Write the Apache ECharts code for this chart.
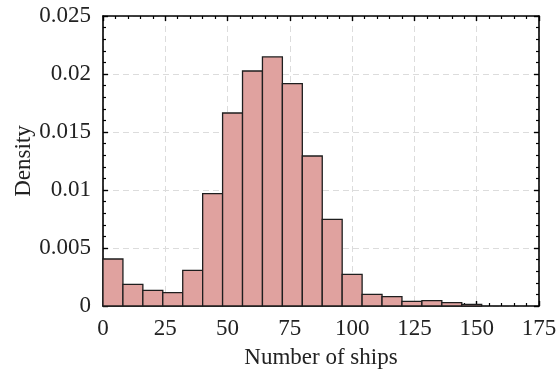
<!DOCTYPE html>
<html>
<head>
<meta charset="utf-8">
<script src="https://cdn.jsdelivr.net/npm/echarts@6/dist/echarts.min.js"></script>
<style>
  html, body { margin: 0; padding: 0; background: #fff; }
  #chart { width: 558px; height: 376px; }
</style>
</head>
<body>
<div id="chart"></div>
<script>
// histogram bins (number of ships), width 8
const binStarts = [0, 8, 16, 24, 32, 40, 48, 56, 64, 72, 80, 88, 96, 104, 112, 120, 128, 136, 144]
const binWidth = 8
const density = [0.00405, 0.00187, 0.00135, 0.00115, 0.00307, 0.00968, 0.01664, 0.02026, 0.02147,
  0.01917, 0.01293, 0.00747, 0.00273, 0.00101, 0.0008, 0.0004, 0.00046, 0.00029, 0.00014]
const xTicks = [0, 25, 50, 75, 100, 125, 150, 175]
const yTickLabels = ['0', '0.005', '0.01', '0.015', '0.02', '0.025']

const chart = echarts.init(document.getElementById('chart'), null, { renderer: 'canvas' })

const font = '"Liberation Serif", "Times New Roman", serif'
const axisLine = { show: true, onZero: false, lineStyle: { color: '#000', width: 1.6 } }
const tick = { show: true, inside: true, length: 5, lineStyle: { color: '#000', width: 1.4 } }
const minor = { show: true, splitNumber: 5, length: 3, lineStyle: { color: '#000', width: 1.2 } }
const grid = { show: true, lineStyle: { color: '#dcdcdc', type: [6, 4], width: 1 } }

const rows = binStarts.map((s, i) => [s, s + binWidth, density[i]])

chart.setOption({
  animation: false,
  grid: { left: 103, top: 16, right: 19, bottom: 70, outerBoundsMode: 'none', containLabel: false },
  xAxis: [
    {
      type: 'value', min: 0, max: 175, interval: 25,
      name: 'Number of ships', nameLocation: 'middle', nameGap: 40, nameMoveOverlap: false,
      nameTextStyle: { fontFamily: font, fontSize: 23, color: '#222' },
      axisLine, axisTick: tick, minorTick: minor, splitLine: grid,
      axisLabel: { fontFamily: font, fontSize: 23, color: '#222', margin: 11, hideOverlap: false,
        formatter: v => xTicks.includes(v) ? String(v) : '' }
    },
    {
      type: 'value', min: 0, max: 175, interval: 25, position: 'top',
      axisLine, axisTick: tick, minorTick: minor,
      axisLabel: { show: false }, splitLine: { show: false }
    }
  ],
  yAxis: [
    {
      type: 'value', min: 0, max: 0.025, interval: 0.005,
      name: 'Density', nameLocation: 'middle', nameGap: 68, nameMoveOverlap: false,
      nameTextStyle: { fontFamily: font, fontSize: 23, color: '#222' },
      axisLine, axisTick: tick, minorTick: minor, splitLine: grid,
      axisLabel: { fontFamily: font, fontSize: 23, color: '#222', margin: 12,
        formatter: v => yTickLabels[Math.round(v / 0.005)] }
    },
    {
      type: 'value', min: 0, max: 0.025, interval: 0.005, position: 'right',
      axisLine, axisTick: tick, minorTick: minor,
      axisLabel: { show: false }, splitLine: { show: false }
    }
  ],
  series: [
    {
      type: 'custom',
      xAxisIndex: 0,
      yAxisIndex: 0,
      data: rows,
      encode: { x: [0, 1], y: 2 },
      renderItem: (params, api) => {
        const p0 = api.coord([api.value(0), api.value(2)])
        const p1 = api.coord([api.value(1), 0])
        return {
          type: 'rect',
          shape: { x: p0[0], y: p0[1], width: p1[0] - p0[0], height: p1[1] - p0[1] },
          style: { fill: '#e0a29f', stroke: '#1e1e1e', lineWidth: 1.3 }
        }
      }
    }
  ]
})
</script>
</body>
</html>
